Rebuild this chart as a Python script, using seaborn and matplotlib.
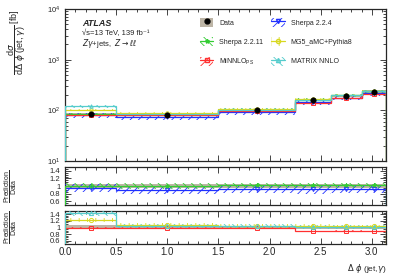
import numpy as np
import matplotlib
matplotlib.use("Agg")
import matplotlib.pyplot as plt
import seaborn as sns
from matplotlib.patches import Patch
from matplotlib.lines import Line2D
from matplotlib.ticker import MultipleLocator, FixedLocator, NullFormatter

sns.set_style("ticks")
plt.rcParams["font.family"] = ["Liberation Sans", "DejaVu Sans"]
plt.rcParams["mathtext.fontset"] = "dejavusans"
plt.rcParams["hatch.linewidth"] = 0.6

# ── data ───────────────────────────────────────────────────────────────────
edges = [0.0, 0.5, 1.5, 2.25, 2.6, 2.9, np.pi]
centers = [0.25, 1.0, 1.875, 2.425, 2.75, 3.02]
data = [84, 82, 100, 158, 195, 235]
data_rel_unc = [0.06, 0.05, 0.05, 0.05, 0.05, 0.05]

sherpa224 = [80, 74, 92, 144, 179, 216]
sherpa2211 = [84, 82, 102, 161, 199, 240]
minnlo = [81, 80, 98, 139, 176, 207]
mg5 = [102, 89, 105, 164, 201, 242]
matrix = [120, 84, 103, 161, 197, 237]

r_sherpa224 = [0.95, 0.90, 0.92, 0.91, 0.92, 0.92]
r_sherpa2211 = [1.0, 1.0, 1.02, 1.02, 1.02, 1.02]
r_minnlo = [0.97, 0.98, 0.98, 0.88, 0.90, 0.88]
r_mg5 = [1.22, 1.08, 1.05, 1.04, 1.03, 1.03]
r_matrix = [1.43, 1.03, 1.03, 1.02, 1.01, 1.01]

# name, main values, ratio values, rel. unc, colour, hatch, marker
preds = {
    "Sherpa 2.2.4": (sherpa224, r_sherpa224, 0.12, "#2030ff", "////", "v"),
    "Sherpa 2.2.11": (sherpa2211, r_sherpa2211, 0.07, "#33cc33", "\\\\\\\\", "*"),
    "MiNNLO$_{\\mathregular{PS}}$": (minnlo, r_minnlo, 0.03, "#ff3030", "////", "s"),
    "MG5_aMC+Pythia8": (mg5, r_mg5, 0.05, "#d8d820", "||", "o"),
    "MATRIX NNLO": (matrix, r_matrix, 0.06, "#55cccc", "\\\\\\\\", "^"),
}
band_col = "#bdb5a6"

fig = plt.figure(figsize=(4.07, 2.76), dpi=100)
ax0 = fig.add_axes([0.160, 0.417, 0.789, 0.550])
ax1 = fig.add_axes([0.160, 0.257, 0.789, 0.138])
ax2 = fig.add_axes([0.160, 0.116, 0.789, 0.120])

e = np.array(edges)


def step(v):
    v = np.asarray(v, dtype=float)
    return np.r_[v, v[-1]]


def draw_pred(ax, vals, unc, col, hatch, marker, ms=3):
    vals = np.asarray(vals, dtype=float)
    ax.fill_between(e, step(vals * (1 - unc)), step(vals * (1 + unc)), step="post",
                    facecolor="none", edgecolor=col, hatch=hatch, linewidth=0, zorder=3)
    ax.stairs(vals, e, color=col, lw=0.9, zorder=4)
    ax.plot(centers, vals, ls="none", marker=marker, ms=ms, mfc="none", mec=col,
            mew=0.7, zorder=5)


# ── main panel ─────────────────────────────────────────────────────────────
d = np.array(data, dtype=float)
du = np.array(data_rel_unc)
ax0.fill_between(e, step(d * (1 - du)), step(d * (1 + du)), step="post",
                 color=band_col, lw=0, zorder=2)
for name, (vals, rat, unc, col, hatch, mk) in preds.items():
    draw_pred(ax0, vals, unc, col, hatch, mk, ms=2.5)
sns.scatterplot(x=centers, y=data, color="black", s=16, edgecolor="black",
                ax=ax0, zorder=10)
ax0.set_yscale("log")
ax0.set_ylim(10, 1e4)
ax0.set_xlim(0, np.pi)
ax0.xaxis.set_major_formatter(NullFormatter())
ax0.set_ylabel(r"$\dfrac{\mathregular{d}\sigma}{\mathregular{d}\Delta\ \phi\ \mathregular{(jet,}\gamma\mathregular{)}}$ [fb]",
               fontsize=6.5, loc="top")
ax0.yaxis.set_label_coords(-0.115, 1.0)

ax0.text(0.053, 0.905, "ATLAS", transform=ax0.transAxes, fontsize=6.5,
         fontweight="bold", fontstyle="italic", va="center")
ax0.text(0.053, 0.843, "\u221as=13 TeV, 139 fb\u207b\u00b9", transform=ax0.transAxes,
         fontsize=5.5, va="center")
ax0.text(0.053, 0.772, r"$Z\gamma$+jets,  $Z\rightarrow\ell\ell$", transform=ax0.transAxes,
         fontsize=5.5, va="center")

# legend
hd = [(Patch(facecolor=band_col, edgecolor="none"),
       Line2D([], [], ls="none", marker="o", color="black", ms=3.5))]
labels = ["Data"]
for name, (vals, rat, unc, col, hatch, mk) in preds.items():
    hd.append((Patch(facecolor="none", edgecolor=col, hatch=hatch, lw=0),
               Line2D([], [], color=col, marker=mk, mfc="none", ms=3, lw=0.9)))
    labels.append(name)
order = [0, 2, 3, 1, 4, 5]
ax0.legend([hd[i] for i in order], [labels[i] for i in order], ncol=2,
           loc="upper left", bbox_to_anchor=(0.41, 0.96), frameon=False,
           fontsize=5, handlelength=2.0, handleheight=1.6, labelspacing=1.5,
           columnspacing=1.2, handletextpad=0.8, borderaxespad=0)

# ── ratio panels ───────────────────────────────────────────────────────────
for ax in (ax1, ax2):
    ax.fill_between(e, step(1 - du), step(1 + du), step="post",
                    color=band_col, lw=0, zorder=2)
    ax.set_ylim(0.5, 1.5)
    ax.set_xlim(0, np.pi)
    ax.yaxis.set_major_locator(FixedLocator([0.6, 0.8, 1.0, 1.2, 1.4]))
    ax.set_yticklabels(["0.6", "0.8", "1", "1.2", "1.4"])
    ax.yaxis.set_minor_locator(MultipleLocator(0.05))
    ax.set_ylabel(r"$\dfrac{\mathregular{Prediction}}{\mathregular{Data}}$", fontsize=5)
    ax.yaxis.set_label_coords(-0.145, 0.5)

for name in ["Sherpa 2.2.4", "Sherpa 2.2.11"]:
    vals, rat, unc, col, hatch, mk = preds[name]
    draw_pred(ax1, rat, unc, col, hatch, mk)
for name in ["MiNNLO$_{\\mathregular{PS}}$", "MG5_aMC+Pythia8", "MATRIX NNLO"]:
    vals, rat, unc, col, hatch, mk = preds[name]
    draw_pred(ax2, rat, unc, col, hatch, mk)

ax1.xaxis.set_major_formatter(NullFormatter())
ax2.set_xlabel(r"$\Delta\ \phi$ (jet,$\gamma$)", fontsize=6, loc="right")
ax2.xaxis.set_label_coords(1.0, -0.55)

for ax in (ax0, ax1, ax2):
    ax.xaxis.set_major_locator(MultipleLocator(0.5))
    ax.xaxis.set_minor_locator(MultipleLocator(0.1))
    ax.tick_params(which="both", direction="in", top=True, right=True,
                   labelsize=5.5, width=0.6)
    ax.tick_params(which="major", length=4)
    ax.tick_params(which="minor", length=2)
    for s in ax.spines.values():
        s.set_linewidth(0.9)
ax2.tick_params(axis="x", labelsize=7, pad=2)

fig.savefig("out.png", dpi=100)
